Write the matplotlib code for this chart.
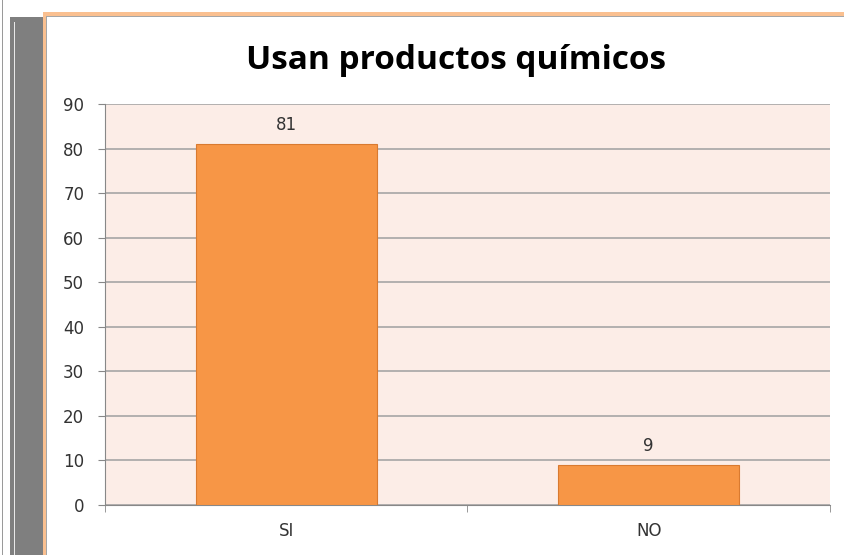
import matplotlib.pyplot as plt
from matplotlib.patches import Rectangle

# Datos
categorias = ['SI', 'NO']
valores = [81, 9]
marcas_y = list(range(0, 100, 10))

fig = plt.figure(figsize=(8.45, 5.55), dpi=100)
fig.patch.set_facecolor('white')

# Marco lateral gris y borde naranja (como en la diapositiva)
W, H = 845, 555
def rect(x0, y0, w, h, **kw):
    fig.patches.append(Rectangle((x0 / W, 1 - (y0 + h) / H), w / W, h / H,
                                 transform=fig.transFigure, **kw))

rect(2, 0, 1.2, 555, facecolor='#9a9a9a', edgecolor='none')
rect(10, 17, 33, 538, facecolor='#7f7f7f', edgecolor='none')
rect(14, 22, 1.2, 533, facecolor='#e8e8e8', edgecolor='none')
rect(43, 12, 802, 3.5, facecolor='#fac090', edgecolor='none')
rect(43, 12, 3, 543, facecolor='#fac090', edgecolor='none')
rect(46, 15.5, 799, 1.5, facecolor='#a6a6a6', edgecolor='none')
rect(46, 15.5, 1.5, 540, facecolor='#a6a6a6', edgecolor='none')

ax = fig.add_axes([105 / W, 50 / H, 725 / W, 401 / H])
ax.set_facecolor('#fcede7')

x = range(len(categorias))
barras = ax.bar(x, valores, width=0.5, color='#f79646', edgecolor='#d97a30',
                linewidth=0.8, zorder=3)
for xi, v in zip(x, valores):
    ax.text(xi, v + 2.3, str(v), ha='center', va='bottom', fontsize=12,
            color='#333333')

ax.set_xlim(-0.5, len(categorias) - 0.5)
ax.set_ylim(0, 90)
ax.set_yticks(marcas_y)
ax.tick_params(axis='y', labelsize=12, colors='#333333', length=5,
               color='#888888', pad=10, direction='out')
ax.set_xticks(list(x))
ax.set_xticklabels(categorias, fontsize=12, color='#333333')
ax.tick_params(axis='x', length=0, pad=12)
# marcas de separacion entre categorias
ax.set_xticks([-0.5, 0.5, 1.5], minor=True)
ax.tick_params(axis='x', which='minor', length=5, color='#888888')

ax.yaxis.grid(True, color='#a6a6a6', linewidth=1.2, zorder=0)
ax.set_axisbelow(True)
for s in ['top', 'right']:
    ax.spines[s].set_visible(False)
for s in ['left', 'bottom']:
    ax.spines[s].set_color('#888888')

fig.text(456 / W, 1 - 69 / H, 'Usan productos químicos', ha='center',
         va='baseline', fontsize=24, fontweight='bold', family='Open Sans',
         color='black')

plt.savefig('out.png', dpi=100)
